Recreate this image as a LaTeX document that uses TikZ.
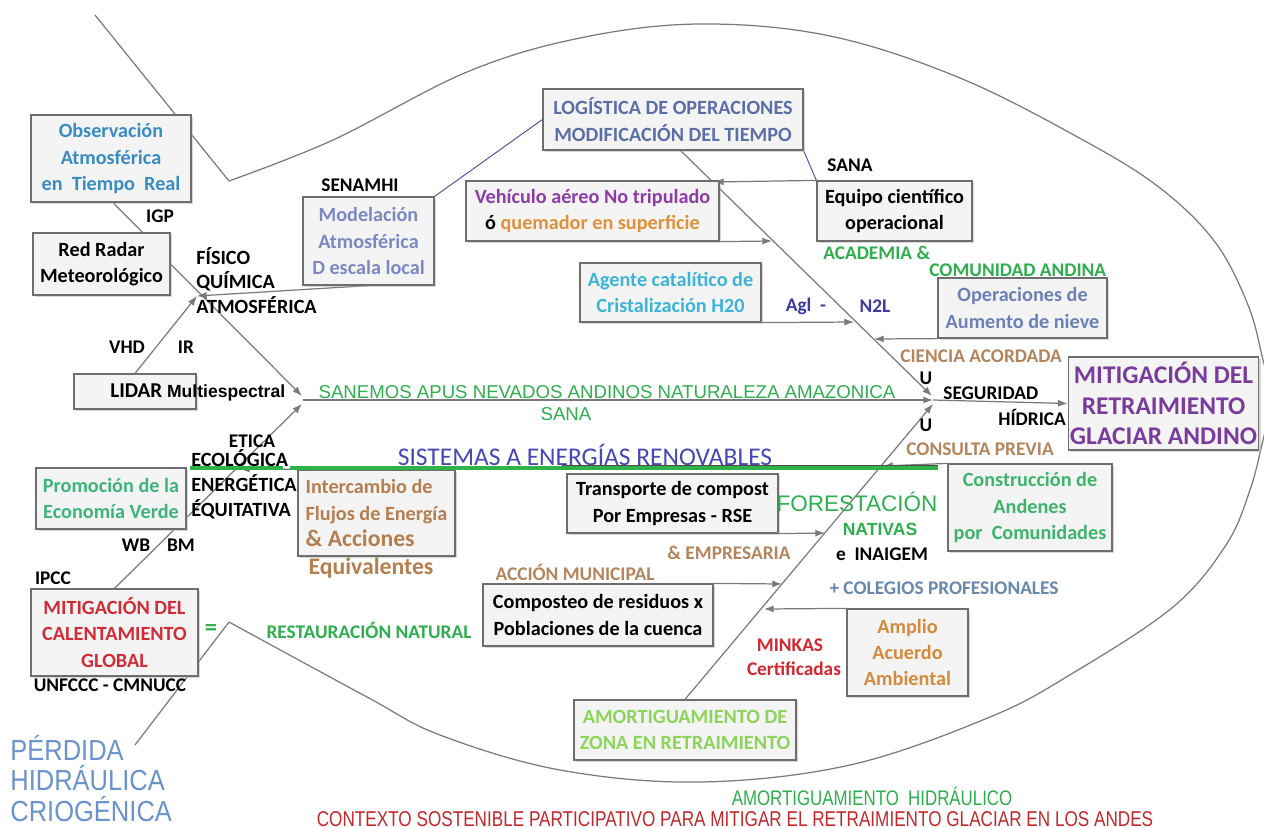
\documentclass[tikz,border=0pt]{standalone}
\usepackage{fontspec}
\setmainfont{Carlito}
\newfontfamily\arialfont{Liberation Sans}
\newfontfamily\narrowfont[FakeStretch=0.8]{Liberation Sans}
\newfontfamily\halfnarrowfont[FakeStretch=0.88]{Liberation Sans}
\usetikzlibrary{arrows.meta,calc,backgrounds,shadows}
\usepackage{xcolor}
\definecolor{boxline}{HTML}{6E6E6E}
\definecolor{boxfill}{HTML}{F4F4F4}
\definecolor{rimgray}{HTML}{7A7A7A}
\definecolor{tieblue}{HTML}{3A4A9A}
\definecolor{obsblue}{HTML}{3A8CC4}
\definecolor{modblue}{HTML}{7C88C4}
\definecolor{logslate}{HTML}{5C6EA8}
\definecolor{vpurple}{HTML}{8E3CA8}
\definecolor{qorange}{HTML}{E0903A}
\definecolor{agcyan}{HTML}{3CB4D8}
\definecolor{opslate}{HTML}{6C80B8}
\definecolor{retpurple}{HTML}{7A3C9C}
\definecolor{andgreen}{HTML}{3CB46C}
\definecolor{promogreen}{HTML}{3CB47C}
\definecolor{interbrown}{HTML}{B47E4E}
\definecolor{calred}{HTML}{D02C38}
\definecolor{acorange}{HTML}{D48A3C}
\definecolor{amgreen}{HTML}{8CD45A}
\definecolor{labgreen}{HTML}{2EAE4E}
\definecolor{labbrown}{HTML}{B4845C}
\definecolor{agindigo}{HTML}{3A3AA0}
\definecolor{sysindigo}{HTML}{4646B4}
\definecolor{colslate}{HTML}{6888AC}
\definecolor{minred}{HTML}{D02830}
\definecolor{pblue}{HTML}{6A92CC}
\definecolor{ctxred}{HTML}{C0282C}
\definecolor{linegreen}{HTML}{2EB24A}

\begin{document}
\begin{tikzpicture}[x=0.02cm,y=-0.02cm,
    box/.style={draw=boxline,fill=boxfill,line width=0.7pt,align=center,
                inner sep=1pt,font=\bfseries\fontsize{11.5}{15}\selectfont,
                drop shadow={shadow xshift=1.3pt,shadow yshift=-1.3pt,fill=black!30}},
    lab/.style={inner sep=0pt,align=left,font=\bfseries\fontsize{11}{13}\selectfont},
    arl/.style={inner sep=0pt,font=\arialfont\fontsize{10.6}{13}\selectfont},
    arr/.style={draw=rimgray,line width=0.7pt,-{Latex[length=5.5pt,width=4pt]}},
    rim/.style={draw=rimgray,line width=0.7pt},
    tie/.style={draw=tieblue,line width=0.5pt}]
  \useasboundingbox (0,0) rectangle (1264,828);

  % boxes on the tail side
  \node[box,minimum width=3.2cm,minimum height=1.74cm,text=obsblue] (obs) at (111,158.5)
    {Observación\\Atmosférica\\en~~Tiempo~~Real};
  \node[box,minimum width=2.74cm,minimum height=1.24cm] (radar) at (101.5,264)
    {Red Radar\\Meteorológico};
  \node[box,minimum width=2.62cm,minimum height=1.76cm,text=modblue] (model) at (368.5,241)
    {Modelación\\Atmosférica\\D escala local};
  \node[box,minimum width=2.44cm,minimum height=0.7cm] (lidar) at (135,391.5) {};
  \node[lab,anchor=west] (lidartxt) at (110,392)
    {\fontsize{12}{14}\selectfont LIDAR \arialfont\fontsize{10}{12}\selectfont Multiespectral};
  \node[box,minimum width=3cm,minimum height=1.22cm,text=promogreen] (promo) at (111,498.5)
    {Promoción de la\\Economía Verde};
  \node[box,minimum width=3.14cm,minimum height=1.72cm,text=interbrown,align=left] (inter) at (376.5,513)
    {Intercambio de\\Flujos de Energía\\{\fontsize{13.5}{15}\selectfont\& Acciones}};
  \node[box,minimum width=3.34cm,minimum height=1.74cm,text=calred] (mitcal) at (114.5,632.5)
    {MITIGACIÓN DEL\\CALENTAMIENTO\\GLOBAL};

  % boxes on the head side
  \node[box,minimum width=5.2cm,minimum height=1.22cm,text=logslate] (logis) at (673,119.5)
    {LOGÍSTICA DE OPERACIONES\\MODIFICACIÓN DEL TIEMPO};
  \node[box,minimum width=5.06cm,minimum height=1.2cm] (vehic) at (592.5,211)
    {{\color{vpurple}Vehículo aéreo No tripulado}\\ó {\color{qorange}quemador en superficie}};
  \node[box,minimum width=3.1cm,minimum height=1.2cm] (equipo) at (894.5,211)
    {Equipo científico\\operacional};
  \node[box,minimum width=3.62cm,minimum height=1.18cm,text=agcyan] (agente) at (670.5,292.5)
    {Agente catalítico de\\Cristalización H20};
  \node[box,minimum width=3.38cm,minimum height=1.2cm,text=opslate] (opera) at (1022.5,308)
    {Operaciones de\\Aumento de nieve};
  \node[box,minimum width=3.74cm,minimum height=1.86cm,text=retpurple,
        font=\bfseries\fontsize{14.5}{17.5}\selectfont] (mitret) at (1163.5,403.5)
    {MITIGACIÓN DEL\\RETRAIMIENTO\\GLACIAR ANDINO};
  \node[box,minimum width=4.22cm,minimum height=1.18cm] (transp) at (672.5,503.5)
    {Transporte de compost\\Por Empresas - RSE};
  \node[box,minimum width=3.28cm,minimum height=1.74cm,text=andgreen] (constr) at (1030,507.5)
    {Construcción de\\Andenes\\por~~Comunidades};
  \node[box,minimum width=4.6cm,minimum height=1.24cm] (compo) at (598,615)
    {Composteo de residuos x\\Poblaciones de la cuenca};
  \node[box,minimum width=2.42cm,minimum height=1.74cm,text=acorange] (amplio) at (907.5,652.5)
    {Amplio\\Acuerdo\\Ambiental};
  \node[box,minimum width=4.44cm,minimum height=1.2cm,text=amgreen] (amort) at (685,730)
    {AMORTIGUAMIENTO DE\\ZONA EN RETRAIMIENTO};

  % junctions on the bones
  \coordinate (jfq) at (197,296);
  \coordinate (jtop) at (302,396);
  \coordinate (jbot) at (302,404);
  \coordinate (spine) at (303,400);
  \coordinate (jmidA) at (932,396);
  \coordinate (jmid) at (933,400);
  \coordinate (jmidB) at (933,404);
  \coordinate (logfoot) at (680,150);
  \coordinate (dinter) at (240,469);
  \coordinate (dequipo) at (714,182);
  \coordinate (dvehic) at (772,241);
  \coordinate (dagente) at (854,322);
  \coordinate (dopera) at (874,339);
  \coordinate (dconstr) at (883,466);
  \coordinate (dtransp) at (825,533);
  \coordinate (dcompo) at (782,584);
  \coordinate (damplio) at (764,609);

  \begin{scope}[on background layer]
    % fish outline
    \draw[rim] (95,15) -- (229,181);
    \draw[rim] plot[smooth,tension=0.6] coordinates {(229,181) (333,140) (467,72) (580,38)
      (700,24) (830,36) (960,78) (1083,140) (1160,188) (1215,242) (1248,305) (1263,360)
      (1272,400) (1263,440) (1250,490) (1226,545) (1173,607) (1073,673) (990,717) (850,765)
      (700,782) (560,770) (440,735) (367,697) (229,622)};
    \draw[rim] (229,622) -- (135,745);
    % bones
    \draw[rim] ($(obs.south)+(2,0)$) -- ($(radar.north)+(41,0)$);
    \draw[arr] (radar.east) -- (jtop);
    \draw[arr] (model.south) -- (jfq);
    \draw[arr] (lidar.north) -- (jfq);
    \draw[arr] (mitcal.north) -- (jbot);
    \draw[arr] (inter.north west) -- (dinter);
    \draw[arr] (spine) -- (jmid);
    \draw[arr] (jmid) -- (mitret.west);
    \draw[arr] (logfoot) -- (jmidA);
    \draw[arr] (amort.north) -- (jmidB);
    \draw[arr] (equipo.north west) -- (dequipo);
    \draw[arr] (vehic.south east) -- (dvehic);
    \draw[arr] (agente.south east) -- (dagente);
    \draw[arr] (opera.south west) -- (dopera);
    \draw[arr] (constr.north west) -- (dconstr);
    \draw[arr] (transp.south east) -- (dtransp);
    \draw[arr] (compo.north east) -- (dcompo);
    \draw[arr] (amplio.north west) -- (damplio);
    \draw[tie] (model.north east) -- (logis.west);
    \draw[tie] (logis.south east) -- (equipo.north west);
  \end{scope}

  % labels
  \node[lab] (igp) at (160,216) {IGP};
  \node[lab] (senamhi) at (360,185) {SENAMHI};
  \node[lab,anchor=west,font=\bfseries\fontsize{11.5}{13.9}\selectfont] (fisico) at (196,280.5)
    {FÍSICO\\QUÍMICA\\ATMOSFÉRICA};
  \node[lab] (vhd) at (127,347) {VHD};
  \node[lab] (ir) at (186,347) {IR};
  \node[lab] (sana) at (850,165) {SANA};
  \node[lab,anchor=west,text=labgreen] (academia) at (823,253) {ACADEMIA \&};
  \node[lab,anchor=west,text=labgreen] (comunidad) at (929,270) {COMUNIDAD ANDINA};
  \node[lab,text=agindigo] (agl) at (806,306) {Agl~~-};
  \node[lab,text=agindigo] (ntwol) at (875,306) {N2L};
  \node[lab,anchor=west,text=labbrown] (ciencia) at (900,356) {CIENCIA ACORDADA};
  \node[lab] (uone) at (926,378) {U};
  \node[lab,anchor=west] (seguridad) at (943,393) {SEGURIDAD};
  \node[lab,anchor=west] (hidrica) at (998,417) {HÍDRICA};
  \node[lab] (utwo) at (926,425) {U};
  \node[lab,anchor=west,text=labbrown] (consulta) at (906,449) {CONSULTA PREVIA};
  \node[arl,text=labgreen] (sanemos) at (607,392) {SANEMOS APUS NEVADOS ANDINOS NATURALEZA AMAZONICA};
  \node[arl,text=labgreen] (sanatwo) at (566,414) {SANA};
  \node[inner sep=0pt,text=sysindigo,font=\fontsize{14.5}{17}\selectfont] (sistemas) at (585,455)
    {SISTEMAS A ENERGÍAS RENOVABLES};
  \node[lab] (etica) at (252,441) {ETICA};
  \node[lab,anchor=west,font=\bfseries\fontsize{11.5}{14.2}\selectfont] (ecologica) at (191,484)
    {ECOLÓGICA\\ENERGÉTICA\\ÉQUITATIVA};
  \node[lab] (wb) at (136,545) {WB};
  \node[lab] (bm) at (181,545) {BM};
  \node[lab] (ipcc) at (53,578) {IPCC};
  \node[lab,text=labgreen,font=\bfseries\fontsize{14}{16}\selectfont] (equal) at (211,630) {=};
  \node[lab,text=labgreen] (restaura) at (369,630) {RESTAURACIÓN NATURAL};
  \node[lab] (unfccc) at (110,685) {UNFCCC - CMNUCC};
  \node[lab,text=interbrown,font=\bfseries\fontsize{13.5}{15}\selectfont] (equival) at (371,568) {Equivalentes};
  \node[lab,text=labbrown] (empresaria) at (729,553) {\& EMPRESARIA};
  \node[lab,text=labbrown] (municipal) at (575,572) {ACCIÓN MUNICIPAL};
  \node[arl,text=labgreen,font=\arialfont\fontsize{12.8}{15}\selectfont] (forest) at (857,502) {FORESTACIÓN};
  \node[arl,text=labgreen,font=\arialfont\bfseries\fontsize{10}{12}\selectfont] (nativas) at (880,529) {NATIVAS};
  \node[lab] (inaigem) at (882,554) {e~~INAIGEM};
  \node[lab,text=colslate] (colegios) at (944,588) {+ COLEGIOS PROFESIONALES};
  \node[lab,text=minred] (minkas) at (790,645) {MINKAS};
  \node[lab,text=minred] (certif) at (794,669) {Certificadas};
  \node[inner sep=0pt,anchor=south west,align=left,text=pblue,font=\halfnarrowfont\fontsize{16.5}{17.4}\selectfont] (perdida) at (10,822)
    {PÉRDIDA\\HIDRÁULICA\\CRIOGÉNICA};
  \node[inner sep=0pt,text=labgreen,font=\narrowfont\fontsize{12}{14}\selectfont] (amhidra) at (872,796)
    {AMORTIGUAMIENTO~~HIDRÁULICO};
  \node[inner sep=0pt,anchor=base,text=ctxred,font=\narrowfont\fontsize{12.2}{14}\selectfont] (contexto) at (735,826)
    {CONTEXTO SOSTENIBLE PARTICIPATIVO PARA MITIGAR EL RETRAIMIENTO GLACIAR EN LOS ANDES};

  % underline of the renewable energy line
  \draw[line width=1.8pt,draw=linegreen] (190,468) -- (283,468);
  \draw[line width=1.8pt,draw=linegreen] (290,468) -- (938,468);
  \draw[line width=0.5pt,black!70] (562,465.5) -- (938,465.5);
\end{tikzpicture}
\end{document}
